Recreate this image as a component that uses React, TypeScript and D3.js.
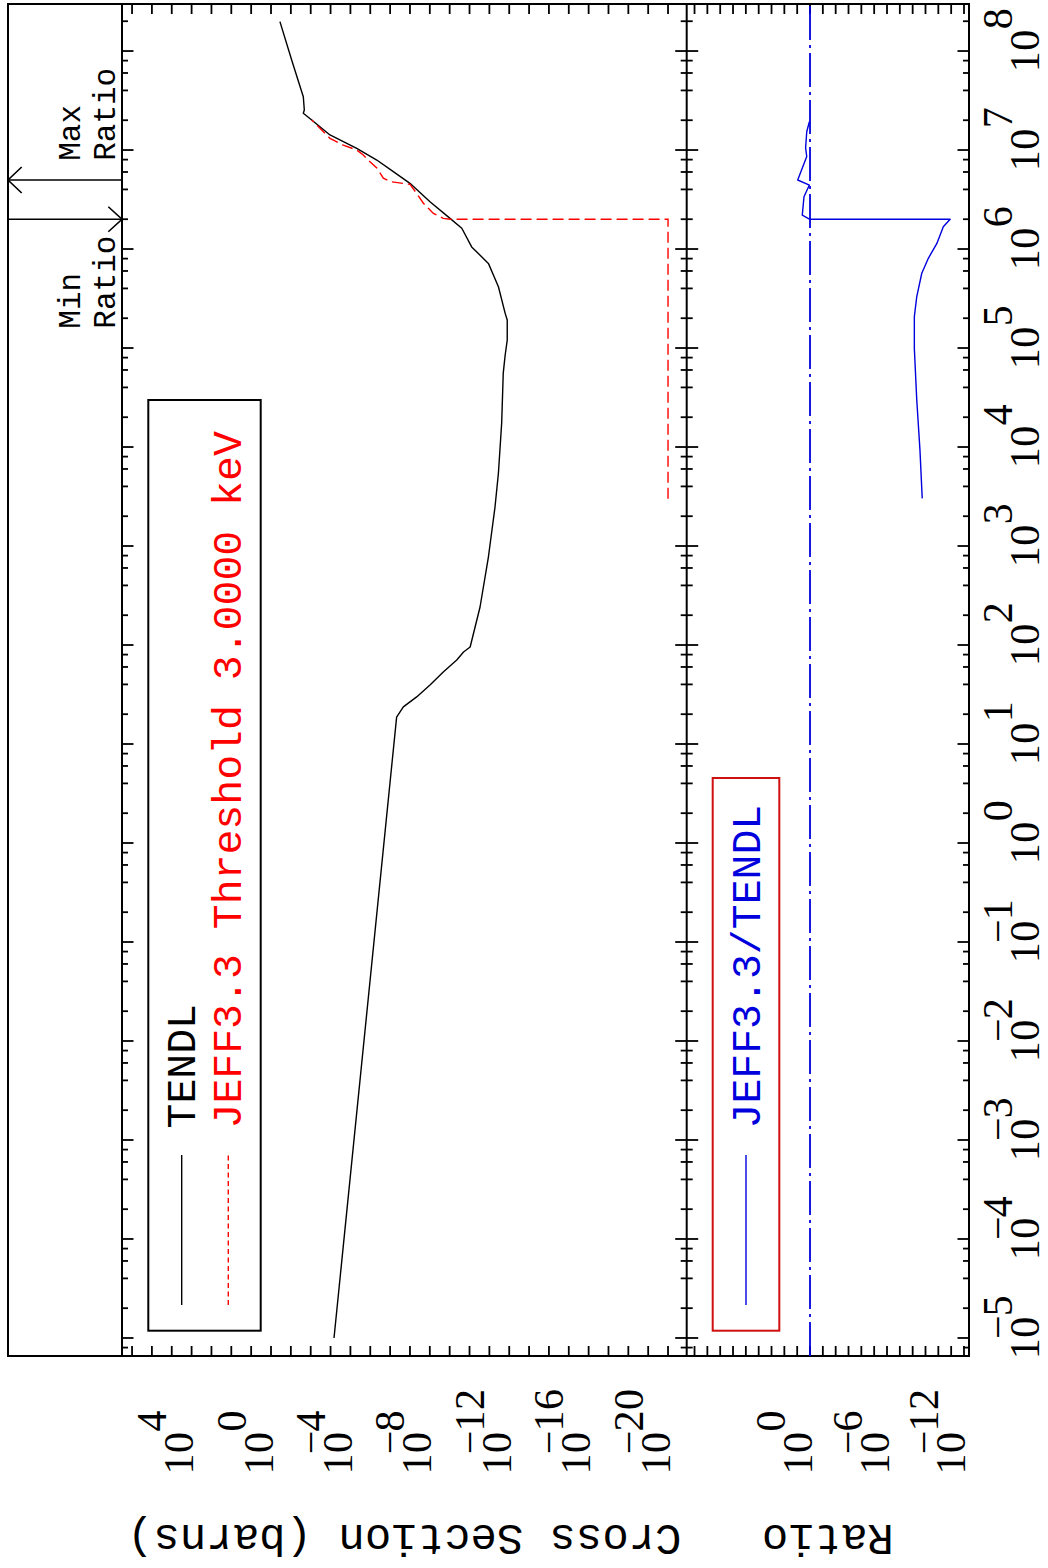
import React from 'react';
import * as d3 from 'd3';

// ---------------- data ----------------
// TENDL cross section (eV, barns)
const tendlEnergy = [1e-5, 18.7, 23.7, 29.9, 39.5, 53.4, 70.5, 84.9, 95.5, 242, 774, 2477, 5460, 17460, 55800, 8.5e4, 1.2e5, 1.92e5, 2.24e5, 4.16e5, 7.16e5, 1.05e6, 1.62e6, 2.04e6, 3.0e6, 4.61e6, 6.04e6, 7.92e6, 1.04e7, 1.42e7, 2.01e7, 2.35e7, 2.54e7, 3.45e7, 8.1e7, 1.98e8];
const tendlXs = [6.7e-4, 4.7e-7, 2.16e-7, 4.6e-8, 9.8e-9, 2.1e-9, 4.4e-10, 2.0e-10, 9.3e-11, 2.95e-11, 1.12e-11, 5.2e-12, 3.5e-12, 2.4e-12, 2.0e-12, 1.6e-12, 1.26e-12, 1.26e-12, 1.6e-12, 3.5e-12, 1.12e-11, 7.8e-11, 2.45e-10, 9.6e-10, 9.8e-9, 1e-7, 6.9e-7, 4.7e-6, 4.8e-5, 1.07e-3, 8.9e-3, 2.36e-2, 2.1e-2, 2.36e-2, 9.1e-2, 0.355];

// JEFF3.3 cross section (eV, barns); zero plotted at 1e-20
const jeffEnergy = [3000, 2.0e6, 2.0e6, 2.04e6, 2.29e6, 2.9e6, 3.65e6, 4.5e6, 4.6e6, 4.8e6, 5.2e6, 6.6e6, 7.6e6, 8.9e6, 1.0e7, 1.12e7, 1.31e7, 1.66e7, 2.01e7];
const jeffXs = [1e-20, 1e-20, 9.6e-10, 2.1e-9, 6.6e-9, 2.1e-8, 4.6e-8, 1e-7, 2.16e-7, 1.0e-6, 2.2e-6, 4.7e-6, 1.03e-5, 2.24e-5, 4.8e-5, 2.28e-4, 1.07e-3, 3.4e-3, 8.9e-3];

// Ratio JEFF3.3/TENDL
const ratioEnergy = [3030, 9300, 2.99e4, 9.9e4, 2.07e5, 3.3e5, 5.69e5, 8.06e5, 1.14e6, 1.68e6, 2.0e6, 2.0e6, 2.2e6, 3.37e6, 4.43e6, 4.98e6, 8.6e6, 1.05e7, 1.53e7, 1.93e7];
const ratioValue = [1.8e-9, 2.7e-9, 4.8e-9, 7.4e-9, 7.4e-9, 4.8e-9, 1.95e-9, 6.0e-10, 1.3e-10, 4.1e-11, 1.2e-11, 1.12, 4.0, 2.95, 1.12, 9.1, 1.8, 2.2, 1.8, 1.12];

const xsLabelExponents = [4, 0, -4, -8, -12, -16, -20];
const ratioLabelExponents = [0, -6, -12];
const energyLabelExponents = [-5, -4, -3, -2, -1, 0, 1, 2, 3, 4, 5, 6, 7, 8];
const minorMultipliers = [1, 2, 4, 6, 8];

const legendLabels = ['TENDL', 'JEFF3.3 Threshold 3.0000 keV'];
const ratioLegendLabel = 'JEFF3.3/TENDL';
const xsTitle = 'Cross Section (barns)';
const ratioTitle = 'Ratio';

// ---------------- layout (unrotated frame: u = energy axis, v = value axis) ----------------
const W = 1048;
const H = 1568;
const U0 = 212;
const U1 = 1564;
const V0 = 8;
const VA = 122;
const VB = 686.7;
const VC = 969;

const RED = '#ff0000';
const BLUE = '#0000dd';
const BOXRED = '#d01010';

const eScale = d3.scaleLog().domain([Math.pow(10, -5.182), Math.pow(10, 8.475)]).range([U0, U1]);
const xsScale = d3.scaleLog().domain([Math.pow(10, 7.506), Math.pow(10, -20.94)]).range([VA, VB]);
const rScale = d3.scaleLog().domain([Math.pow(10, 9.61), Math.pow(10, -12.39)]).range([VB, VC]);

const NUMFONT = 'Liberation Serif';
const MONO = 'Liberation Mono';
const NUMSIZE = 42;
const CELL = 21.5;

function PowerLabel({ c0, baseV, exp }: { c0: number; baseV: number; exp: number }) {
  const cells = [0, 1, 2, 3, 4].map((i) => c0 + i * CELL);
  const digits = String(Math.abs(exp));
  const expStr = (exp < 0 ? '\u2212' : '') + digits;
  const expPos = exp < 0
    ? [cells[1], ...digits.split('').map((_, i) => cells[2 + i])]
    : digits.split('').map((_, i) => cells[2 + i]);
  return (
    <g fontFamily={NUMFONT} fontSize={NUMSIZE} fill="#000" textAnchor="middle">
      <text x={`${cells[0]} ${cells[1]}`} y={baseV}>10</text>
      <text x={expPos.join(' ')} y={baseV - 27}>{expStr}</text>
    </g>
  );
}

export default function App() {
  const tendl = tendlEnergy.map((e, i) => [e, tendlXs[i]] as [number, number]);
  const jeff = jeffEnergy.map((e, i) => [e, jeffXs[i]] as [number, number]);
  const ratio = ratioEnergy.map((e, i) => [e, ratioValue[i]] as [number, number]);

  const xsLine = d3.line<[number, number]>().x((d) => eScale(d[0])).y((d) => xsScale(d[1]));
  const rLine = d3.line<[number, number]>().x((d) => eScale(d[0])).y((d) => rScale(d[1]));

  const [eMin, eMax] = eScale.domain();
  const energyTicks: { e: number; major: boolean }[] = [];
  for (let n = -6; n <= 8; n++) {
    for (const m of minorMultipliers) {
      const e = m * Math.pow(10, n);
      if (e >= eMin && e <= eMax) energyTicks.push({ e, major: m === 1 });
    }
  }
  const xsTicks = d3.range(-20, 8).map((k) => Math.pow(10, k));
  const rTicks = d3.range(-12, 10).map((k) => Math.pow(10, k));

  const maxIdx = d3.maxIndex(ratioValue);
  const minIdx = d3.minIndex(ratioValue);
  const uMax = eScale(ratioEnergy[maxIdx]);
  const uMin = eScale(ratioEnergy[minIdx]);

  const sw = 1.8;
  const smallAdv = 31 * 0.6;

  return (
    <svg width={W} height={H} style={{ position: 'absolute', left: 0, top: 0, display: 'block' }}>
      <rect x={0} y={0} width={W} height={H} fill="#fff" />
      <g transform={`translate(0,${H}) rotate(-90)`}>
        {/* frame */}
        <g stroke="#000" strokeWidth={2} fill="none">
          <rect x={U0} y={V0} width={U1 - U0} height={VC - V0} />
          <line x1={U0} x2={U1} y1={VA} y2={VA} />
          <line x1={U0} x2={U1} y1={VB} y2={VB} />
        </g>

        {/* value-axis ticks on both energy edges */}
        <g stroke="#000" strokeWidth={sw}>
          {xsTicks.map((t, i) => (
            <g key={`xs${i}`}>
              <line x1={U0} x2={U0 + 10} y1={xsScale(t)} y2={xsScale(t)} />
              <line x1={U1} x2={U1 - 10} y1={xsScale(t)} y2={xsScale(t)} />
            </g>
          ))}
          {rTicks.map((t, i) => (
            <g key={`r${i}`}>
              <line x1={U0} x2={U0 + 10} y1={rScale(t)} y2={rScale(t)} />
              <line x1={U1} x2={U1 - 10} y1={rScale(t)} y2={rScale(t)} />
            </g>
          ))}
          {energyTicks.map((t, i) => {
            const u = eScale(t.e);
            const len = t.major ? 11.5 : 6;
            return (
              <g key={`e${i}`}>
                <line x1={u} x2={u} y1={VA} y2={VA + len} />
                <line x1={u} x2={u} y1={VB - len} y2={VB + len} />
                <line x1={u} x2={u} y1={VC} y2={VC - len} />
              </g>
            );
          })}
        </g>

        {/* curves: cross sections */}
        <path d={xsLine(tendl) || ''} fill="none" stroke="#000" strokeWidth={1.4} strokeLinejoin="round" />
        <path d={xsLine(jeff) || ''} fill="none" stroke={RED} strokeWidth={1.4} strokeDasharray="11 5" />

        {/* ratio */}
        <line x1={U0} x2={U1} y1={rScale(1)} y2={rScale(1)} stroke={BLUE} strokeWidth={1.8} strokeDasharray="34 5 3 5" />
        <path d={rLine(ratio) || ''} fill="none" stroke={BLUE} strokeWidth={1.4} strokeLinejoin="round" />

        {/* legend: cross section */}
        <rect x={237.3} y={148.3} width={1168 - 237.3} height={260.7 - 148.3} fill="none" stroke="#000" strokeWidth={2} />
        <line x1={263} x2={413} y1={181.7} y2={181.7} stroke="#000" strokeWidth={1.4} />
        <line x1={263} x2={413} y1={228.3} y2={228.3} stroke={RED} strokeWidth={1.4} strokeDasharray="5 3.5" />
        <text x={439.5} y={195} fontFamily={MONO} fontSize={41.5} fill="#000">{legendLabels[0]}</text>
        <text x={439.5} y={240.5} fontFamily={MONO} fontSize={41.5} fill={RED}>{legendLabels[1]}</text>

        {/* legend: ratio */}
        <rect x={237.3} y={712.7} width={790 - 237.3} height={779.3 - 712.7} fill="none" stroke={BOXRED} strokeWidth={2} />
        <line x1={263} x2={413} y1={746} y2={746} stroke={BLUE} strokeWidth={1.4} />
        <text x={439.5} y={760} fontFamily={MONO} fontSize={41.5} fill={BLUE}>{ratioLegendLabel}</text>

        {/* Min / Max ratio markers */}
        <g stroke="#000" strokeWidth={1.6} fill="none">
          <line x1={uMax} x2={uMax} y1={V0} y2={VA} />
          <polyline points={`${uMax + 13},${V0 + 13.7} ${uMax},${V0} ${uMax - 13},${V0 + 13.7}`} />
          <line x1={uMin} x2={uMin} y1={V0} y2={VA} />
          <polyline points={`${uMin + 12.5},${VA - 13.7} ${uMin},${VA} ${uMin - 12.5},${VA - 13.7}`} />
        </g>
        <g fontFamily={MONO} fontSize={31} fill="#000">
          <text x={uMax + 19.2} y={80}>Max</text>
          <text x={uMax + 19.2} y={115}>Ratio</text>
          <text x={uMin - 16.4 - 5 * smallAdv} y={80}>Min</text>
          <text x={uMin - 16.4 - 5 * smallAdv} y={115}>Ratio</text>
        </g>

        {/* value-axis labels */}
        {xsLabelExponents.map((k) => (
          <PowerLabel key={`xl${k}`} c0={104} baseV={xsScale(Math.pow(10, k)) + 1.5} exp={k} />
        ))}
        {ratioLabelExponents.map((k) => (
          <PowerLabel key={`rl${k}`} c0={104} baseV={rScale(Math.pow(10, k)) + 1.5} exp={k} />
        ))}

        {/* energy labels */}
        {energyLabelExponents.map((n) => (
          <PowerLabel key={`el${n}`} c0={eScale(Math.pow(10, n)) - CELL / 2} baseV={1039} exp={n} />
        ))}

        {/* axis titles */}
        <text transform={`translate(43,${(VA + VB) / 2}) rotate(-90)`} textAnchor="middle" fontFamily={MONO} fontSize={44} fill="#000">{xsTitle}</text>
        <text transform={`translate(43,${(VB + VC) / 2}) rotate(-90)`} textAnchor="middle" fontFamily={MONO} fontSize={44} fill="#000">{ratioTitle}</text>
      </g>
    </svg>
  );
}
